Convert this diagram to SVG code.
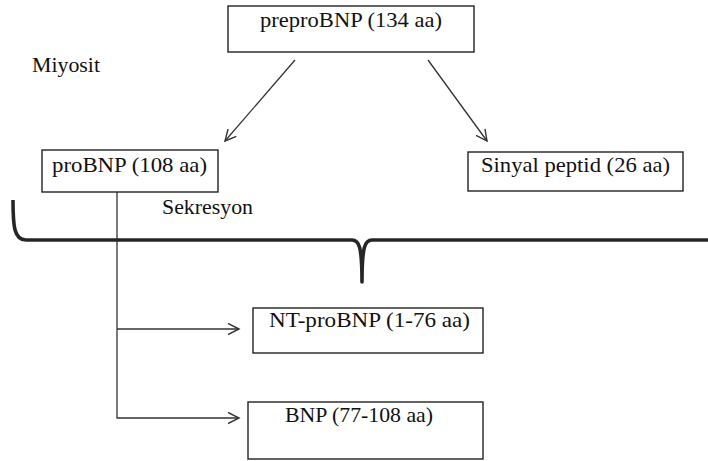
<svg xmlns="http://www.w3.org/2000/svg" width="708" height="461" viewBox="0 0 708 461">
  <defs>
    <style>
      .box { fill: #ffffff; stroke: #222222; stroke-width: 1.4; }
      .lbl { font-family: "Liberation Serif", "DejaVu Serif", "Times New Roman", serif; font-size: 21px; fill: #111111; }
      .conn { fill: none; stroke: #333333; stroke-width: 1.3; }
      .brace { fill: none; stroke: #262626; stroke-width: 3.6; stroke-linejoin: round; stroke-linecap: butt; }
    </style>
    <marker id="arr" markerUnits="userSpaceOnUse" markerWidth="14" markerHeight="14" refX="11" refY="6" orient="auto" viewBox="0 0 14 12">
      <path d="M0,0.5 L11,6 L0,11.5" fill="none" stroke="#333333" stroke-width="1.4"/>
    </marker>
  </defs>
  <rect width="708" height="461" fill="#ffffff"/>

  <g id="connectors">
    <line class="conn" x1="295" y1="60" x2="225" y2="141" marker-end="url(#arr)"/>
    <line class="conn" x1="428" y1="60" x2="487" y2="141" marker-end="url(#arr)"/>
    <polyline class="conn" points="117,192 117,418 239,418" marker-end="url(#arr)"/>
    <line class="conn" x1="117" y1="329" x2="239" y2="329" marker-end="url(#arr)"/>
  </g>

  <g id="brace">
    <path class="brace" d="M13,200 C13,226 14,240 26,240 L352,240 C359,240 362,246 362,282 C362,246 365,240 372,240 L708,240"/>
  </g>

  <g id="miyosit">
    <text class="lbl" x="32" y="72" textLength="68" lengthAdjust="spacingAndGlyphs">Miyosit</text>
  </g>
  <g id="sekresyon">
    <text class="lbl" x="162" y="214" textLength="91" lengthAdjust="spacingAndGlyphs">Sekresyon</text>
  </g>

  <g id="preproBNP">
    <rect class="box" x="228" y="6" width="246" height="46"/>
    <text class="lbl" x="260" y="27" textLength="182" lengthAdjust="spacingAndGlyphs">preproBNP (134 aa)</text>
  </g>
  <g id="proBNP">
    <rect class="box" x="42" y="150" width="176" height="42"/>
    <text class="lbl" x="52" y="172" textLength="155" lengthAdjust="spacingAndGlyphs">proBNP (108 aa)</text>
  </g>
  <g id="sinyal">
    <rect class="box" x="468" y="152" width="215" height="39"/>
    <text class="lbl" x="481" y="172" textLength="189" lengthAdjust="spacingAndGlyphs">Sinyal peptid (26 aa)</text>
  </g>
  <g id="ntprobnp">
    <rect class="box" x="253" y="308" width="230" height="45"/>
    <text class="lbl" x="269" y="327" textLength="201" lengthAdjust="spacingAndGlyphs">NT-proBNP (1-76 aa)</text>
  </g>
  <g id="bnp">
    <rect class="box" x="248" y="402" width="235" height="57"/>
    <text class="lbl" x="285" y="422" textLength="148" lengthAdjust="spacingAndGlyphs">BNP (77-108 aa)</text>
  </g>
</svg>
